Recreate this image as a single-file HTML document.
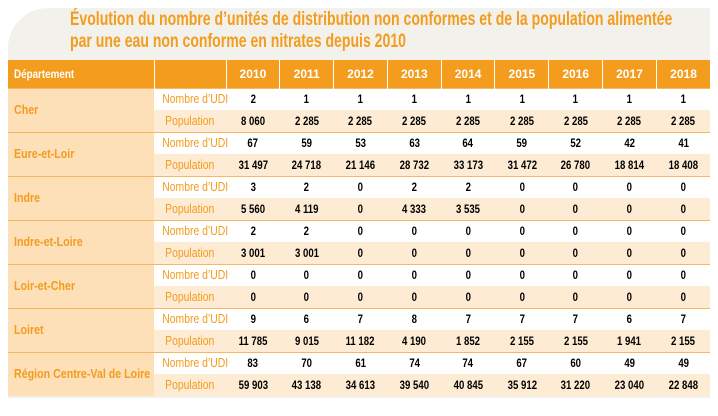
<!DOCTYPE html>
<html><head><meta charset="utf-8"><style>
body{margin:0;width:718px;height:416px;background:#fff;font-family:"Liberation Sans",sans-serif;overflow:hidden;position:relative}
#bg{position:absolute;left:8px;top:8px;width:702px;height:390px;background:#f2f1ec;border-top-left-radius:40px}
#title{position:absolute;left:70px;top:9px;color:#f39c1e;font-weight:bold;font-size:19px;line-height:22px;transform:scaleX(0.74);transform-origin:0 0;white-space:nowrap}
table{position:absolute;left:8px;top:60px;width:702px;border-collapse:collapse;table-layout:fixed;font-weight:bold;font-size:12px}
td,th{padding:0;text-align:center;height:21px;line-height:14px;white-space:nowrap;overflow:visible}
tr{height:22px}
th{background:#f39c1e;color:#fff;height:27px;font-size:12px;border-left:1.5px solid #fff}
th:first-child{text-align:left;padding-left:6px;border-left:none}
td.d{background:#fde0b8;color:#f39c1e;text-align:left;padding-left:6px;font-size:13px}
td.l{color:#f39c1e;font-weight:normal;font-size:13px}
tr.a td{background:#fff}
tr.b td{background:#fdebd3}
tr.a td.d,tr.b td.d{background:#fde0b8}
tr.a td{border-top:1px solid #f7b866}
.n{display:inline-block;transform:scaleX(0.8)}
.dn{display:inline-block;transform:scaleX(0.82);transform-origin:0 50%}
</style></head><body>
<div id="bg"></div>
<div id="title">Évolution du nombre d’unités de distribution non conformes et de la population alimentée<br>par une eau non conforme en nitrates depuis 2010</div>
<table>
<colgroup><col style="width:146px"><col style="width:72px"><col span="9" style="width:53.8px"></colgroup>
<thead><tr style="height:28px"><th><span class="dn">Département</span></th><th></th><th>2010</th><th>2011</th><th>2012</th><th>2013</th><th>2014</th><th>2015</th><th>2016</th><th>2017</th><th>2018</th></tr></thead>
<tbody id="tb"></tbody>
</table>
<script>
const departments=["Cher","Eure-et-Loir","Indre","Indre-et-Loire","Loir-et-Cher","Loiret","Région Centre-Val de Loire"];
const udi=[["2","1","1","1","1","1","1","1","1"],["67","59","53","63","64","59","52","42","41"],["3","2","0","2","2","0","0","0","0"],["2","2","0","0","0","0","0","0","0"],["0","0","0","0","0","0","0","0","0"],["9","6","7","8","7","7","7","6","7"],["83","70","61","74","74","67","60","49","49"]];
const pop=[["8 060","2 285","2 285","2 285","2 285","2 285","2 285","2 285","2 285"],["31 497","24 718","21 146","28 732","33 173","31 472","26 780","18 814","18 408"],["5 560","4 119","0","4 333","3 535","0","0","0","0"],["3 001","3 001","0","0","0","0","0","0","0"],["0","0","0","0","0","0","0","0","0"],["11 785","9 015","11 182","4 190","1 852","2 155","2 155","1 941","2 155"],["59 903","43 138","34 613","39 540","40 845","35 912","31 220","23 040","22 848"]];
const tb=document.getElementById('tb');
departments.forEach((d,i)=>{
 const r1=document.createElement('tr');r1.className='a';
 
 
 r1.innerHTML='<td class="d" rowspan="2"><span class="dn">'+d+'</span></td><td class="l"><span class="n">Nombre d’UDI</span></td>'+udi[i].map(v=>'<td><span class="n">'+v+'</span></td>').join('');
 const r2=document.createElement('tr');r2.className='b';
 
 
 r2.innerHTML='<td class="l"><span class="n">Population</span></td>'+pop[i].map(v=>'<td><span class="n">'+v+'</span></td>').join('');
 tb.appendChild(r1);tb.appendChild(r2);
});
</script>
</body></html>
